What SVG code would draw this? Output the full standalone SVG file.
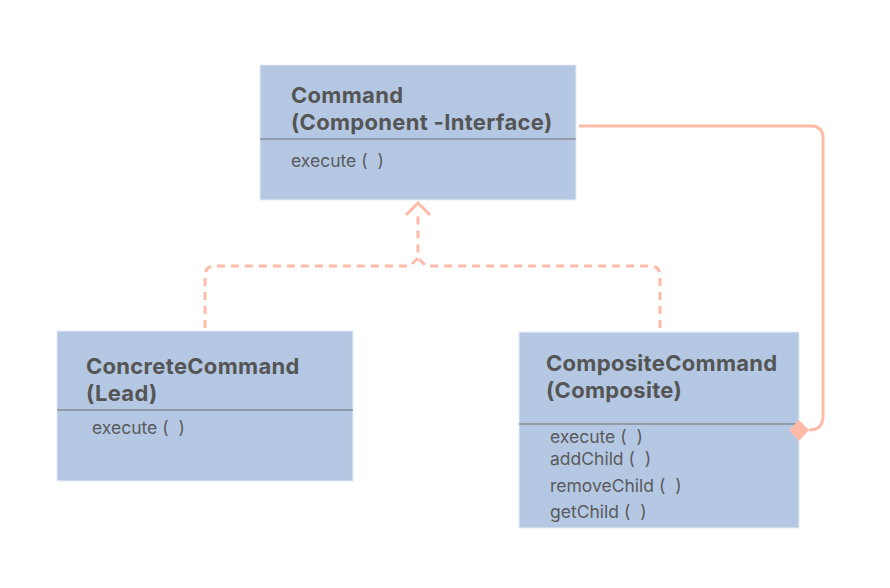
<svg xmlns="http://www.w3.org/2000/svg" width="890" height="588" viewBox="0 0 890 588">
<style>
.box{fill:#B4C8E4;stroke:#E6ECF5;stroke-width:1}
.div{stroke:#6E6E6E;stroke-width:1.2}
.t{font-family:Inter,"Liberation Sans",sans-serif;font-weight:700;font-size:22px;letter-spacing:0.3px;fill:#555555}
.m{font-family:Inter,"Liberation Sans",sans-serif;font-size:17.5px;fill:#5A5A5A;white-space:pre}
.c{fill:none;stroke:#FFBBA8;stroke-width:3}
.d{fill:none;stroke:#FFBBA8;stroke-width:3;stroke-dasharray:8 6}
</style>
<rect width="890" height="588" fill="#FFFFFF"/>
<g id="connectors">
<path class="c" d="M579 126 H811 Q823 126 823 138 V416 Q823 430 809 430"/>
<path class="d" d="M205 328 V276 Q205 266 215 266 H410 L418 258 V216"/>
<path class="d" d="M660 328 V276 Q660 266 650 266 H426 L418 258"/>
<path class="c" d="M406 215 L418 203 L430 215"/>
</g>
<g id="command">
<rect class="box" x="260" y="65" width="316" height="135"/>
<line class="div" x1="260" y1="139" x2="576" y2="139"/>
<text class="t" x="291" y="103">Command</text>
<text class="t" x="291" y="130">(Component -Interface)</text>
<text class="m" x="291" y="167" xml:space="preserve">execute (  )</text>
</g>
<g id="concrete">
<rect class="box" x="57" y="331" width="296" height="150"/>
<line class="div" x1="57" y1="410" x2="353" y2="410"/>
<text class="t" x="86" y="374">ConcreteCommand</text>
<text class="t" x="86" y="401">(Lead)</text>
<text class="m" x="92" y="434" xml:space="preserve">execute (  )</text>
</g>
<g id="composite">
<rect class="box" x="519" y="332" width="280" height="196"/>
<line class="div" x1="519" y1="424" x2="799" y2="424"/>
<text class="t" x="546" y="371">CompositeCommand</text>
<text class="t" x="546" y="398">(Composite)</text>
<text class="m" x="550" y="443" xml:space="preserve">execute (  )</text>
<text class="m" x="550" y="465" xml:space="preserve">addChild (  )</text>
<text class="m" x="550" y="492" xml:space="preserve">removeChild (  )</text>
<text class="m" x="550" y="518" xml:space="preserve">getChild (  )</text>
</g>
<polygon id="diamond" points="789,430 799,420 809,430 799,441" fill="#FFBBA8"/>
</svg>
